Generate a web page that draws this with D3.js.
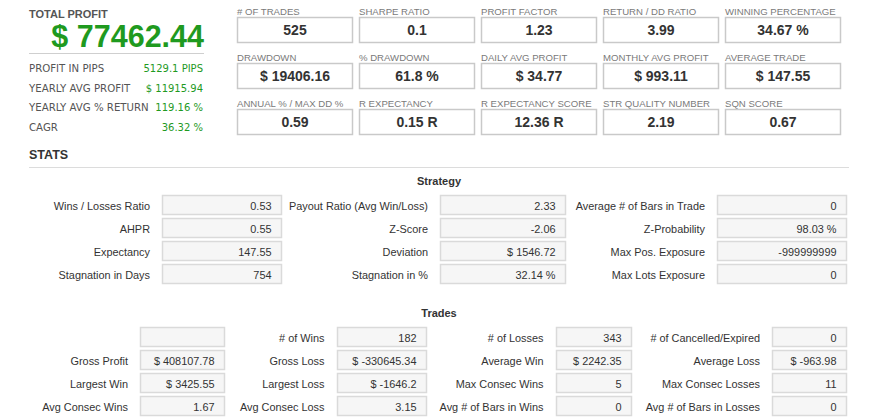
<!DOCTYPE html>
<html><head><meta charset="utf-8">
<script src="https://cdn.jsdelivr.net/npm/d3@7"></script>
<style>
html,body{margin:0;padding:0;background:#fff;}
svg{display:block;}
</style></head>
<body>
<svg id="c" width="870" height="419"></svg>
<script>
// ---------- DATA ----------
const totalProfit = "$ 77462.44";
const summaryLabels = ["PROFIT IN PIPS", "YEARLY AVG PROFIT", "YEARLY AVG % RETURN", "CAGR"];
const summaryValues = ["5129.1 PIPS", "$ 11915.94", "119.16 %", "36.32 %"];

const kpiLabels = [
  "# OF TRADES", "SHARPE RATIO", "PROFIT FACTOR", "RETURN / DD RATIO", "WINNING PERCENTAGE",
  "DRAWDOWN", "% DRAWDOWN", "DAILY AVG PROFIT", "MONTHLY AVG PROFIT", "AVERAGE TRADE",
  "ANNUAL % / MAX DD %", "R EXPECTANCY", "R EXPECTANCY SCORE", "STR QUALITY NUMBER", "SQN SCORE"
];
const kpiValues = [
  "525", "0.1", "1.23", "3.99", "34.67 %",
  "$ 19406.16", "61.8 %", "$ 34.77", "$ 993.11", "$ 147.55",
  "0.59", "0.15 R", "12.36 R", "2.19", "0.67"
];

const strategyLabels = [
  ["Wins / Losses Ratio", "AHPR", "Expectancy", "Stagnation in Days"],
  ["Payout Ratio (Avg Win/Loss)", "Z-Score", "Deviation", "Stagnation in %"],
  ["Average # of Bars in Trade", "Z-Probability", "Max Pos. Exposure", "Max Lots Exposure"]
];
const strategyValues = [
  ["0.53", "0.55", "147.55", "754"],
  ["2.33", "-2.06", "$ 1546.72", "32.14 %"],
  ["0", "98.03 %", "-999999999", "0"]
];

const tradesLabels = [
  ["", "Gross Profit", "Largest Win", "Avg Consec Wins"],
  ["# of Wins", "Gross Loss", "Largest Loss", "Avg Consec Loss"],
  ["# of Losses", "Average Win", "Max Consec Wins", "Avg # of Bars in Wins"],
  ["# of Cancelled/Expired", "Average Loss", "Max Consec Losses", "Avg # of Bars in Losses"]
];
const tradesValues = [
  ["", "$ 408107.78", "$ 3425.55", "1.67"],
  ["182", "$ -330645.34", "$ -1646.2", "3.15"],
  ["343", "$ 2242.35", "5", "0"],
  ["0", "$ -963.98", "11", "0"]
];

// ---------- DRAW ----------
const svg = d3.select("#c");
const SANS = "'Liberation Sans', Arial, sans-serif";
const TAHOMA = "'DejaVu Sans', Verdana, sans-serif";
const GREEN = "#1f9a1f";

// Left summary panel
const left = svg.append("g");
left.append("text").attr("x", 29).attr("y", 18)
  .attr("font-family", SANS).attr("font-weight", "bold").attr("font-size", 11)
  .attr("fill", "#555").text("TOTAL PROFIT");
left.append("text").attr("x", 204).attr("y", 47).attr("text-anchor", "end")
  .attr("font-family", SANS).attr("font-weight", "bold").attr("font-size", 30.5)
  .attr("fill", GREEN).text(totalProfit);
left.append("line").attr("x1", 29).attr("x2", 204).attr("y1", 53.5).attr("y2", 53.5)
  .attr("stroke", "#cfcfcf").attr("stroke-width", 1);

const ySum = d3.scalePoint().domain(d3.range(summaryLabels.length)).range([68, 127]);
const sumRows = left.selectAll("g.sr").data(summaryLabels).join("g").attr("class", "sr")
  .attr("transform", (d, i) => `translate(0,${ySum(i)})`);
sumRows.append("text").attr("x", 29).attr("y", 4)
  .attr("font-family", TAHOMA).attr("font-size", 10.2).attr("fill", "#555")
  .text(d => d);
sumRows.append("text").attr("x", 203).attr("y", 4).attr("text-anchor", "end")
  .attr("font-family", TAHOMA).attr("font-size", 10).attr("fill", GREEN)
  .text((d, i) => summaryValues[i]);

// KPI grid
const xK = d3.scaleBand().domain(d3.range(5)).range([237, 841]).paddingInner(6 / 122);
const yK = d3.scaleBand().domain(d3.range(3)).range([17, 135]).paddingInner(20 / 46);
const kpi = svg.selectAll("g.kpi").data(kpiLabels).join("g").attr("class", "kpi")
  .attr("transform", (d, i) => `translate(${xK(i % 5)},${yK(Math.floor(i / 5))})`);
kpi.append("text").attr("x", 0).attr("y", -2)
  .attr("font-family", SANS).attr("font-size", 9.6).attr("fill", "#7a7a7a")
  .text(d => d);
kpi.append("rect").attr("x", 0.5).attr("y", 0.5)
  .attr("width", xK.bandwidth() - 1).attr("height", yK.bandwidth() - 1)
  .attr("fill", "#fff").attr("stroke", "#c9c9c9").attr("stroke-width", 1.5);
kpi.append("text").attr("x", xK.bandwidth() / 2).attr("y", yK.bandwidth() / 2 + 5)
  .attr("text-anchor", "middle").attr("font-family", SANS).attr("font-weight", "bold")
  .attr("font-size", 14).attr("fill", "#333").text((d, i) => kpiValues[i]);

// STATS heading
svg.append("text").attr("x", 29).attr("y", 159)
  .attr("font-family", SANS).attr("font-weight", "bold").attr("font-size", 12.5)
  .attr("fill", "#333").text("STATS");
svg.append("line").attr("x1", 29).attr("x2", 849).attr("y1", 167.5).attr("y2", 167.5)
  .attr("stroke", "#dcdcdc").attr("stroke-width", 1);

function table(title, titleY, labels, values, colLabelRight, colBoxLeft, colBoxRight, rowRange) {
  const g = svg.append("g");
  g.append("text").attr("x", 439).attr("y", titleY).attr("text-anchor", "middle")
    .attr("font-family", SANS).attr("font-weight", "bold").attr("font-size", 11)
    .attr("fill", "#333").text(title);
  const nRows = labels[0].length;
  const yR = d3.scaleBand().domain(d3.range(nRows)).range(rowRange).paddingInner(3 / 23);
  const xLab = d3.scaleOrdinal().domain(d3.range(labels.length)).range(colLabelRight);
  const xBoxL = d3.scaleOrdinal().domain(d3.range(labels.length)).range(colBoxLeft);
  const xBoxR = d3.scaleOrdinal().domain(d3.range(labels.length)).range(colBoxRight);
  const cells = [];
  labels.forEach((col, c) => col.forEach((lab, r) => cells.push({c, r, lab, val: values[c][r]})));
  const cell = g.selectAll("g.cell").data(cells).join("g").attr("class", "cell")
    .attr("transform", d => `translate(0,${yR(d.r)})`);
  cell.append("rect")
    .attr("x", d => xBoxL(d.c) + 0.5).attr("y", 0.5)
    .attr("width", d => xBoxR(d.c) - xBoxL(d.c) - 1).attr("height", yR.bandwidth() - 1)
    .attr("fill", "#f6f6f6").attr("stroke", "#dadada").attr("stroke-width", 1.5);
  cell.append("text").attr("x", d => xLab(d.c)).attr("y", yR.bandwidth() / 2 + 4.5)
    .attr("text-anchor", "end").attr("font-family", SANS).attr("font-size", 10.9)
    .attr("fill", "#333").text(d => d.lab);
  cell.append("text").attr("x", d => xBoxR(d.c) - 10.5).attr("y", yR.bandwidth() / 2 + 4.5)
    .attr("text-anchor", "end").attr("font-family", SANS).attr("font-size", 10.9)
    .attr("fill", "#333").text(d => d.val);
}

table("Strategy", 185, strategyLabels, strategyValues,
  [150, 428, 705], [162, 440, 717], [282, 566, 847], [195, 284]);
table("Trades", 317, tradesLabels, tradesValues,
  [128, 324.5, 543.5, 760], [140, 337, 556, 772], [225, 427, 632, 847], [327, 416]);
</script>
</body></html>
